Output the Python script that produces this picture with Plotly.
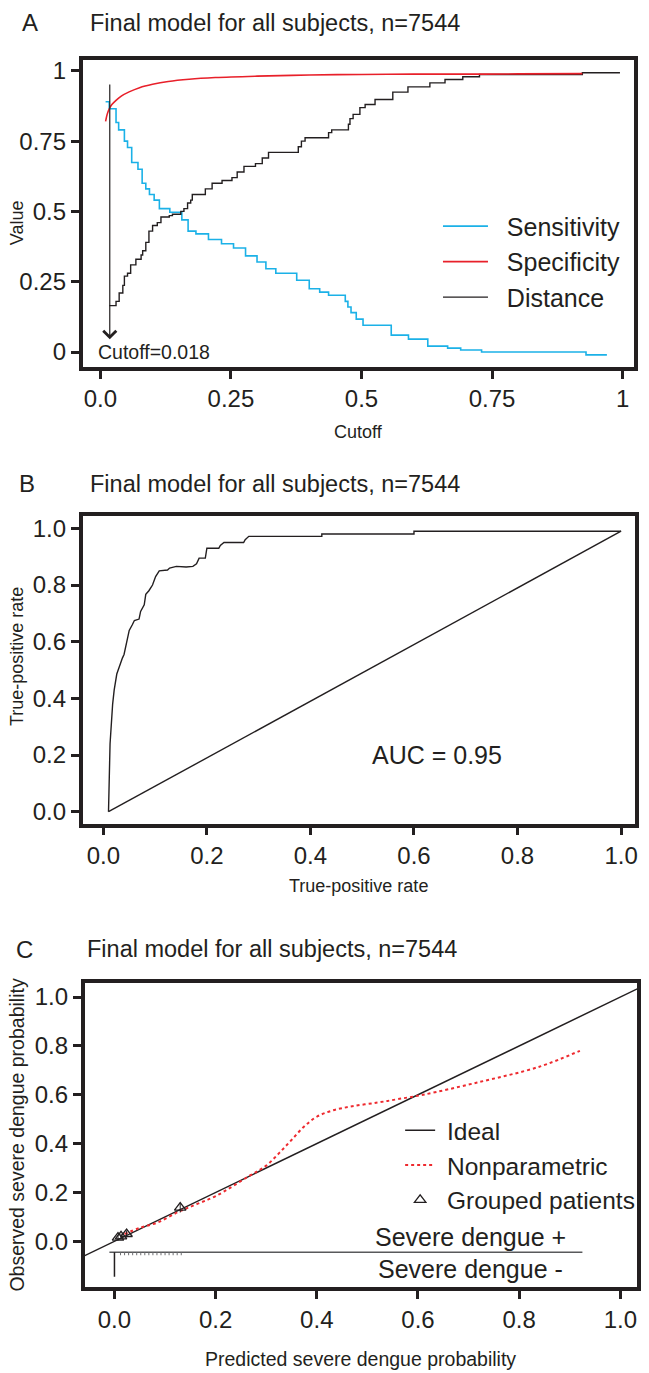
import plotly.graph_objects as go

W, H = 649, 1373
FONT = "Liberation Sans, Arial, sans-serif"
INK = "#231F20"
NB = "\u00a0"

# ---------------- Panel A data ----------------
sens_cut = [0.010, 0.017, 0.030, 0.035, 0.046, 0.052, 0.060, 0.072, 0.080, 0.087, 0.094, 0.103,
            0.113, 0.133, 0.156, 0.168, 0.183, 0.207, 0.232, 0.255, 0.278, 0.300, 0.317, 0.336,
            0.376, 0.400, 0.420, 0.437, 0.469, 0.474, 0.480, 0.490, 0.503, 0.557, 0.590, 0.627,
            0.665, 0.690, 0.730, 0.930, 0.970]
sens_val = [0.890, 0.865, 0.816, 0.790, 0.750, 0.727, 0.674, 0.650, 0.600, 0.580, 0.560, 0.540,
            0.510, 0.497, 0.470, 0.430, 0.420, 0.400, 0.385, 0.370, 0.342, 0.320, 0.296, 0.280,
            0.255, 0.225, 0.213, 0.202, 0.180, 0.160, 0.140, 0.117, 0.095, 0.060, 0.046, 0.021,
            0.014, 0.007, 0.000, -0.010, -0.010]

spec_cut = [0.010, 0.013, 0.017, 0.022, 0.030, 0.040, 0.055, 0.075, 0.100, 0.130, 0.170, 0.220,
            0.300, 0.400, 0.500, 0.600, 0.700, 0.800, 0.923]
spec_val = [0.820, 0.845, 0.865, 0.880, 0.895, 0.910, 0.925, 0.940, 0.952, 0.962, 0.970, 0.976,
            0.981, 0.985, 0.987, 0.988, 0.988, 0.989, 0.990]

dist_cut = [0.017, 0.030, 0.036, 0.043, 0.046, 0.052, 0.058, 0.068, 0.078, 0.081, 0.087, 0.093,
            0.100, 0.109, 0.116, 0.132, 0.138, 0.154, 0.160, 0.167, 0.173, 0.176, 0.201, 0.214,
            0.233, 0.252, 0.262, 0.275, 0.297, 0.310, 0.322, 0.379, 0.385, 0.392, 0.437, 0.443,
            0.475, 0.478, 0.484, 0.497, 0.507, 0.526, 0.560, 0.589, 0.631, 0.660, 0.694, 0.726,
            0.923, 0.995]
dist_val = [0.165, 0.180, 0.210, 0.237, 0.270, 0.280, 0.310, 0.330, 0.345, 0.360, 0.390, 0.430,
            0.450, 0.460, 0.480, 0.485, 0.490, 0.500, 0.510, 0.530, 0.540, 0.560, 0.580, 0.600,
            0.610, 0.620, 0.640, 0.660, 0.670, 0.690, 0.710, 0.730, 0.750, 0.762, 0.780, 0.790,
            0.810, 0.830, 0.845, 0.869, 0.880, 0.898, 0.924, 0.943, 0.957, 0.969, 0.979, 0.987,
            0.993, 0.993]

best_cutoff = 0.018
arrow_top, arrow_tip = 0.957, 0.045

a_ticks = [0, 0.25, 0.5, 0.75, 1]
a_xtext = ["0.0", "0.25", "0.5", "0.75", "1"]
a_ytext = ["0", "0.25", "0.5", "0.75", "1"]

# ---------------- Panel B data ----------------
roc_fpr = [0.010, 0.013, 0.018, 0.021, 0.026, 0.030, 0.037, 0.040, 0.046, 0.050, 0.056, 0.060,
           0.069, 0.072, 0.079, 0.082, 0.088, 0.095, 0.101, 0.108, 0.124, 0.128, 0.141, 0.160,
           0.173, 0.180, 0.185, 0.197, 0.200, 0.223, 0.226, 0.233, 0.271, 0.274, 0.281, 0.422,
           0.422, 0.600, 0.600, 1.000]
roc_tpr = [0.000, 0.240, 0.380, 0.430, 0.486, 0.510, 0.543, 0.555, 0.602, 0.640, 0.660, 0.675,
           0.680, 0.707, 0.730, 0.767, 0.780, 0.800, 0.830, 0.850, 0.853, 0.860, 0.866, 0.864,
           0.866, 0.875, 0.895, 0.895, 0.930, 0.930, 0.940, 0.950, 0.950, 0.960, 0.972, 0.972,
           0.980, 0.980, 0.990, 0.990]
chance_fpr = [0.010, 1.000]
chance_tpr = [0.000, 0.990]
auc_label = "AUC = 0.95"
b_ticks = [0, 0.2, 0.4, 0.6, 0.8, 1.0]
b_text = ["0.0", "0.2", "0.4", "0.6", "0.8", "1.0"]

# ---------------- Panel C data ----------------
ideal = [-0.2, 1.2]
np_pred = [0.020, 0.050, 0.085, 0.126, 0.160, 0.200, 0.266, 0.300, 0.325, 0.350, 0.375, 0.400,
           0.430, 0.470, 0.520, 0.560, 0.610, 0.717, 0.840, 0.920]
np_obs = [0.030, 0.055, 0.077, 0.120, 0.150, 0.185, 0.267, 0.310, 0.360, 0.415, 0.470, 0.510,
          0.535, 0.553, 0.568, 0.582, 0.600, 0.650, 0.715, 0.780]
grp_pred = [0.007, 0.013, 0.024, 0.130]
grp_obs = [0.015, 0.020, 0.030, 0.138]
grp_err = [0.012, 0.012, 0.014, 0.020]
rug_y = -0.045
rug_span = [-0.010, 0.925]
rug_tall_x = [0.0]
rug_tall_len = 0.10
rug_small_x = [0.012, 0.020, 0.028, 0.036, 0.044, 0.052, 0.060, 0.068, 0.076, 0.084, 0.092,
               0.100, 0.108, 0.116, 0.124, 0.132]
rug_small_len = 0.012
c_ticks = [0, 0.2, 0.4, 0.6, 0.8, 1.0]
c_text = ["0.0", "0.2", "0.4", "0.6", "0.8", "1.0"]


def PX(x):
    return x / W


def PY(y):
    return 1 - y / H


fig = go.Figure()

# Panel A traces
fig.add_trace(go.Scatter(x=sens_cut, y=sens_val, mode="lines", line=dict(color="#1BB1E7", width=1.6, shape="hv"),
                         name=NB * 2 + "Sensitivity", legend="legend", legendrank=1, xaxis="x", yaxis="y"))
fig.add_trace(go.Scatter(x=dist_cut, y=dist_val, mode="lines", line=dict(color=INK, width=1.4, shape="hv"),
                         name=NB * 2 + "Distance", legend="legend", legendrank=3, xaxis="x", yaxis="y"))
fig.add_trace(go.Scatter(x=spec_cut, y=spec_val, mode="lines", line=dict(color="#E8202A", width=1.6, shape="spline"),
                         name=NB * 2 + "Specificity", legend="legend", legendrank=2, xaxis="x", yaxis="y"))

# Panel B traces
fig.add_trace(go.Scatter(x=roc_fpr, y=roc_tpr, mode="lines", line=dict(color=INK, width=1.4),
                         showlegend=False, xaxis="x2", yaxis="y2"))
fig.add_trace(go.Scatter(x=chance_fpr, y=chance_tpr, mode="lines", line=dict(color=INK, width=1.4),
                         showlegend=False, xaxis="x2", yaxis="y2"))

# Panel C traces
fig.add_trace(go.Scatter(x=ideal, y=ideal, mode="lines", line=dict(color=INK, width=1.5),
                         name=NB + "Ideal", legend="legend2", xaxis="x3", yaxis="y3"))
fig.add_trace(go.Scatter(x=np_pred, y=np_obs, mode="lines",
                         line=dict(color="#EE2A2F", width=2, dash="dot", shape="spline", smoothing=1.0),
                         name=NB + "Nonparametric", legend="legend2", xaxis="x3", yaxis="y3"))
fig.add_trace(go.Scatter(x=grp_pred, y=grp_obs, mode="markers",
                         marker=dict(symbol="triangle-up-open", size=10, color=INK, line=dict(width=1.3, color=INK)),
                         error_y=dict(type="data", array=grp_err, color=INK, thickness=1, width=0),
                         name=NB + "Grouped patients", legend="legend2", xaxis="x3", yaxis="y3"))
# rug baseline
fig.add_trace(go.Scatter(x=rug_span, y=[rug_y, rug_y], mode="lines", line=dict(color="#58595B", width=1.5),
                         showlegend=False, xaxis="x3", yaxis="y3"))
# rug spikes
rx, ry = [], []
for v in rug_tall_x:
    rx += [v, v, None]
    ry += [rug_y, rug_y - rug_tall_len, None]
fig.add_trace(go.Scatter(x=rx, y=ry, mode="lines", line=dict(color=INK, width=1.5),
                         showlegend=False, xaxis="x3", yaxis="y3"))
sx, sy = [], []
for v in rug_small_x:
    sx += [v, v, None]
    sy += [rug_y, rug_y - rug_small_len, None]
fig.add_trace(go.Scatter(x=sx, y=sy, mode="lines", line=dict(color="#6D6E71", width=1),
                         showlegend=False, xaxis="x3", yaxis="y3"))

tickfont = dict(family=FONT, size=24, color=INK)
axis_common = dict(showline=True, linecolor=INK, linewidth=3.5, mirror=True, ticks="outside",
                   ticklen=8, tickwidth=3, tickcolor=INK, showgrid=False, zeroline=False,
                   tickfont=tickfont, fixedrange=True)

fig.update_layout(
    width=W, height=H, margin=dict(l=0, r=0, t=0, b=0),
    paper_bgcolor="white", plot_bgcolor="white",
    font=dict(family=FONT, color=INK),
    xaxis=dict(axis_common, domain=[PX(83), PX(637)], range=[-0.034, 1.022], anchor="y",
               tickvals=a_ticks, ticktext=a_xtext),
    yaxis=dict(axis_common, domain=[PY(365), PY(57)], range=[-0.053, 1.039], anchor="x",
               tickvals=a_ticks, ticktext=a_ytext),
    xaxis2=dict(axis_common, domain=[PX(83), PX(638)], range=[-0.04, 1.027], anchor="y2",
                tickvals=b_ticks, ticktext=b_text),
    yaxis2=dict(axis_common, domain=[PY(823), PY(515)], range=[-0.042, 1.042], anchor="x2",
                tickvals=b_ticks, ticktext=b_text),
    xaxis3=dict(axis_common, domain=[PX(85), PX(640)], range=[-0.059, 1.033], anchor="y3",
                tickvals=c_ticks, ticktext=c_text),
    yaxis3=dict(axis_common, domain=[PY(1288), PY(983)], range=[-0.188, 1.057], anchor="x3",
                tickvals=c_ticks, ticktext=c_text),
    legend=dict(x=PX(440), y=PY(201), xanchor="left", yanchor="top", bgcolor="rgba(0,0,0,0)",
                font=dict(family=FONT, size=25, color=INK), itemwidth=45),
    legend2=dict(x=PX(402), y=PY(1108), xanchor="left", yanchor="top", bgcolor="rgba(0,0,0,0)",
                 font=dict(family=FONT, size=24.5, color=INK)),
)

ann = []
def text(x, y, s, size, xanchor="center", angle=0, family=FONT):
    ann.append(dict(x=PX(x), y=PY(y), xref="paper", yref="paper", text=s, showarrow=False,
                    xanchor=xanchor, yanchor="middle", textangle=angle,
                    font=dict(family=family, size=size, color=INK)))

title = "Final model for all subjects, n=7544"
text(30, 20, "A", 24)
text(88, 20, title, 23.5, "left")
text(27, 482, "B", 24)
text(88, 482, title, 23.5, "left")
text(25, 949, "C", 24)
text(85, 949, title, 23.5, "left")

text(17, 220, "Value", 18, angle=-90)
text(360, 430, "Cutoff", 18)
text(17, 655, "True-positive rate", 18, angle=-90)
text(360, 886, "True-positive rate", 18)
text(17, 1135, "Observed severe dengue probability", 19.5, angle=-90)
text(362, 1360, "Predicted severe dengue probability", 19.5)

# data-anchored annotations
ann.append(dict(x=best_cutoff, y=arrow_tip, ax=best_cutoff, ay=arrow_top, xref="x", yref="y",
                axref="x", ayref="y", showarrow=True, arrowhead=4, arrowsize=2.1, arrowwidth=1.2,
                arrowcolor=INK, text=""))
ann.append(dict(x=-0.008, y=0.0, xref="x", yref="y", text="Cutoff=0.018", showarrow=False,
                xanchor="left", yanchor="middle", font=dict(family=FONT, size=19.5, color=INK)))
ann.append(dict(x=0.645, y=0.2, xref="x2", yref="y2", text=auc_label, showarrow=False,
                xanchor="center", yanchor="middle", font=dict(family=FONT, size=25, color=INK)))
ann.append(dict(x=0.703, y=0.016, xref="x3", yref="y3", text="Severe dengue +", showarrow=False,
                xanchor="center", yanchor="middle", font=dict(family=FONT, size=25, color=INK)))
ann.append(dict(x=0.703, y=-0.114, xref="x3", yref="y3", text="Severe dengue -", showarrow=False,
                xanchor="center", yanchor="middle", font=dict(family=FONT, size=25, color=INK)))

fig.update_layout(annotations=ann)
fig.write_html(
    "out.html",
    config={"displayModeBar": False},
    post_script="document.body.style.margin='0';document.body.style.overflow='hidden';"
                "document.documentElement.style.overflow='hidden';",
)
